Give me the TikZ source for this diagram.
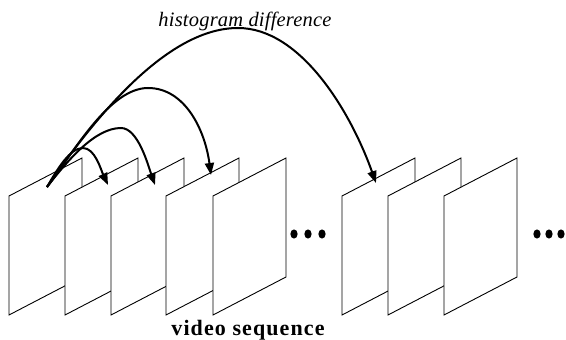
\documentclass[tikz,border=0pt]{standalone}
\usepackage{fontspec}
\setmainfont{Liberation Serif}
\usetikzlibrary{arrows.meta}
\begin{document}
\begin{tikzpicture}[x=1pt,y=-1pt,
  vframe/.style={draw=black,fill=white,line width=0.9pt,line join=miter},
  arc/.style={line width=2pt,-{Triangle[length=12pt,width=9pt]}},
  dot/.style={fill=black}]
\useasboundingbox (0,0) rectangle (566,340);
% frames
\foreach \L in {9,65,111,166,213,342,388,444}
  \draw[vframe] (\L,196) -- ++(73,-38) -- ++(0,119) -- ++(-73,38) -- cycle;
% dots
\foreach \X in {294,308,322,537,549,561}
  \fill[dot] (\X,234) ellipse [x radius=3.6, y radius=4.6];
% arc end points
\coordinate (s) at (47,187);
\coordinate (t1) at (108,185);
\coordinate (t2) at (155,185);
\coordinate (t3) at (211,175);
\coordinate (t4) at (376,183);
\draw[arc] (s) .. controls (58,168) and (70,148) .. (83,148)
               .. controls (95,148) and (101,170) .. (t1);
\draw[arc] (s) .. controls (68,160) and (95,128) .. (121,128)
               .. controls (138,128) and (148,165) .. (t2);
\draw[arc] (s) .. controls (75,150) and (110,88) .. (148,88)
               .. controls (185,88) and (205,130) .. (t3);
\draw[arc] (s) .. controls (100,110) and (170,28) .. (238,28)
               .. controls (300,28) and (350,110) .. (t4);
% labels
\node[anchor=base, inner sep=0pt, font=\fontsize{20.5}{24}\selectfont\itshape\addfontfeatures{LetterSpace=1}] (lbl) at (245,27) {histogram difference};
\node[anchor=base, inner sep=0pt, font=\fontsize{22}{26}\selectfont\bfseries\addfontfeatures{LetterSpace=5}] (cap) at (248,335) {video sequence};
\end{tikzpicture}
\end{document}
